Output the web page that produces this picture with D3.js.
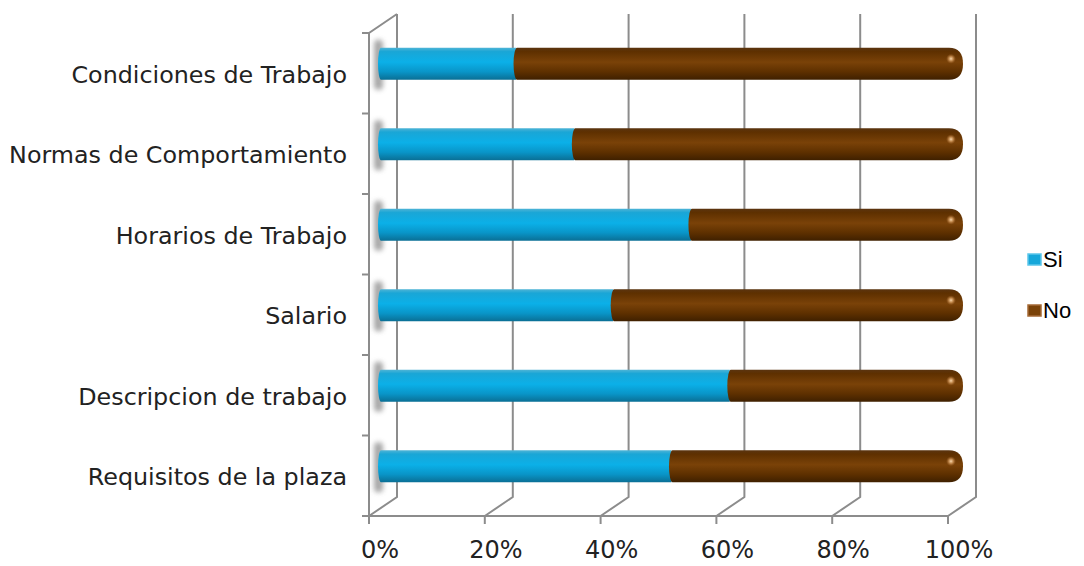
<!DOCTYPE html>
<html>
<head>
<meta charset="utf-8">
<script src="https://cdn.jsdelivr.net/npm/d3@7/dist/d3.min.js"></script>
<style>
  body { margin: 0; background: #fff; }
  svg { display: block; }
</style>
</head>
<body>
<div id="chart"></div>
<script>
// data, top to bottom as in the picture (counts out of 30)
var categories = ['Condiciones de Trabajo', 'Normas de Comportamiento', 'Horarios de Trabajo',
                  'Salario', 'Descripcion de trabajo ', 'Requisitos de la plaza'];
var siValues = [7, 10, 16, 12, 18, 15];
var noValues = [23, 20, 14, 18, 12, 15];
var tickLabels = ['0%', '20%', '40%', '60%', '80%', '100%'];
var seriesNames = ['Si', 'No'];

var width = 1084, height = 566;
var depthX = 28, depthY = -19;   // offset of back wall
var frontLeft = 369, frontRight = 948, frontTop = 33, frontBottom = 516;
var gridColor = '#8c8c8c';

var svg = d3.select('#chart').append('svg')
	.attr('width', width)
	.attr('height', height);

var defs = svg.append('defs');

function cylGrad(id, stops) {
	var g = defs.append('linearGradient')
		.attr('id', id)
		.attr('x1', 0).attr('y1', 0).attr('x2', 0).attr('y2', 1);
	stops.forEach(function(s) {
		g.append('stop').attr('offset', s[0]).attr('stop-color', s[1]);
	});
}
cylGrad('gradSi', [[0, '#4fb4d6'], [0.12, '#1aa6d6'], [0.45, '#0bb0e8'], [0.75, '#0995c8'], [1, '#0a6f95']]);
cylGrad('gradNo', [[0, '#5a3410'], [0.12, '#5e3000'], [0.45, '#7a4208'], [0.75, '#5e3000'], [1, '#3f2000']]);

var hl = defs.append('radialGradient').attr('id', 'capHighlight');
hl.append('stop').attr('offset', 0).attr('stop-color', '#fad9b0').attr('stop-opacity', 1);
hl.append('stop').attr('offset', 0.45).attr('stop-color', '#d49a5c').attr('stop-opacity', 0.8);
hl.append('stop').attr('offset', 1).attr('stop-color', '#a0622a').attr('stop-opacity', 0);

defs.append('filter').attr('id', 'blur')
	.attr('x', '-100%').attr('y', '-50%').attr('width', '300%').attr('height', '200%')
	.append('feGaussianBlur').attr('stdDeviation', 2.5);

// scales
var x = d3.scaleLinear().domain([0, 1]).range([frontLeft, frontRight]);
var y = d3.scaleBand().domain(categories).range([frontTop, frontBottom]);

var ticks = d3.range(0, 1.0001, 0.2);

// back wall gridlines
var grid = svg.append('g')
	.attr('stroke', gridColor)
	.attr('stroke-width', 2)
	.attr('fill', 'none');

ticks.forEach(function(t) {
	var fx = x(t);
	grid.append('path')
		.attr('d', d3.line()([[fx, frontBottom], [fx + depthX, frontBottom + depthY], [fx + depthX, frontTop + depthY]]));
	grid.append('line')
		.attr('x1', fx).attr('x2', fx)
		.attr('y1', frontBottom).attr('y2', frontBottom + 8);
});

// floor front edge
grid.append('line')
	.attr('x1', frontLeft).attr('x2', frontRight)
	.attr('y1', frontBottom).attr('y2', frontBottom);

// left wall
grid.append('path')
	.attr('d', d3.line()([[frontLeft, frontBottom], [frontLeft, frontTop], [frontLeft + depthX, frontTop + depthY]]));

var bounds = categories.map(function(c) { return y(c); }).concat([frontBottom]);
bounds.forEach(function(b) {
	grid.append('line')
		.attr('x1', frontLeft - 7).attr('x2', frontLeft)
		.attr('y1', b).attr('y2', b);
});

// category labels
svg.append('g').selectAll('text')
	.data(categories)
	.join('text')
	.attr('x', 347)
	.attr('y', function(d) { return y(d) + y.bandwidth() / 2 + 3; })
	.attr('text-anchor', 'end')
	.attr('dominant-baseline', 'middle')
	.attr('font-family', 'DejaVu Sans, sans-serif')
	.attr('font-size', '23.8px')
	.attr('fill', '#222')
	.text(function(d) { return d; });

// x tick labels
svg.append('g').selectAll('text')
	.data(ticks)
	.join('text')
	.attr('x', function(d) { return x(d) + 11; })
	.attr('y', 558)
	.attr('text-anchor', 'middle')
	.attr('font-family', 'DejaVu Sans, sans-serif')
	.attr('font-size', '24px')
	.attr('fill', '#222')
	.text(function(d, i) { return tickLabels[i]; });

// bars sit half way into the depth
var midX = d3.scaleLinear().domain([0, 1]).range([frontLeft + 11, frontRight + 15]);
var barH = 32;

var rows = categories.map(function(c, i) {
	var total = siValues[i] + noValues[i];
	return { cat: c, si: siValues[i] / total, no: noValues[i] / total };
});

var barG = svg.append('g');

rows.forEach(function(r) {
	var cy = y(r.cat) + y.bandwidth() / 2 + depthY / 2;
	var top = cy - barH / 2, bot = cy + barH / 2;
	var x0 = midX(0) - 2, xb = midX(r.si) - 2, x1 = midX(r.si + r.no);

	// soft shadow on the left wall
	barG.append('rect')
		.attr('x', x0 - 4).attr('y', top - 8)
		.attr('width', 9).attr('height', barH + 18)
		.attr('rx', 4)
		.attr('fill', '#8a8a8a')
		.attr('opacity', 0.75)
		.attr('filter', 'url(#blur)');

	// Si segment
	barG.append('path')
		.attr('d', 'M' + (x0 + 3) + ',' + top + ' L' + (xb + 2) + ',' + top +
			' L' + (xb + 2) + ',' + bot + ' L' + (x0 + 3) + ',' + bot +
			' A3,' + (barH / 2) + ' 0 0 1 ' + (x0 + 3) + ',' + top + 'Z')
		.attr('fill', 'url(#gradSi)');

	// No segment with rounded right cap
	var capR = 14;
	barG.append('path')
		.attr('d', 'M' + (xb + 3) + ',' + top + ' L' + (x1 - capR) + ',' + top +
			' Q' + x1 + ',' + top + ' ' + x1 + ',' + (cy) +
			' Q' + x1 + ',' + bot + ' ' + (x1 - capR) + ',' + bot +
			' L' + (xb + 3) + ',' + bot +
			' A3.5,' + (barH / 2) + ' 0 0 1 ' + (xb + 3) + ',' + top + 'Z')
		.attr('fill', 'url(#gradNo)');

	barG.append('ellipse')
		.attr('cx', x1 - 12).attr('cy', top + 11)
		.attr('rx', 5).attr('ry', 5)
		.attr('fill', 'url(#capHighlight)');
});

// legend
var legend = svg.append('g')
	.attr('font-family', 'Liberation Sans, Arial, sans-serif')
	.attr('font-size', '22px')
	.attr('fill', '#000');

var legendColors = [['#16a7da', '#5cc6ea'], ['#7a4208', '#a56a36']];
seriesNames.forEach(function(s, i) {
	var ly = 259 + i * 51;
	legend.append('rect')
		.attr('x', 1028).attr('y', ly - 5)
		.attr('width', 13).attr('height', 11)
		.attr('fill', legendColors[i][0])
		.attr('stroke', legendColors[i][1])
		.attr('stroke-width', 1.5);
	legend.append('text')
		.attr('x', 1043).attr('y', ly + 8)
		.text(s);
});
</script>
</body>
</html>
